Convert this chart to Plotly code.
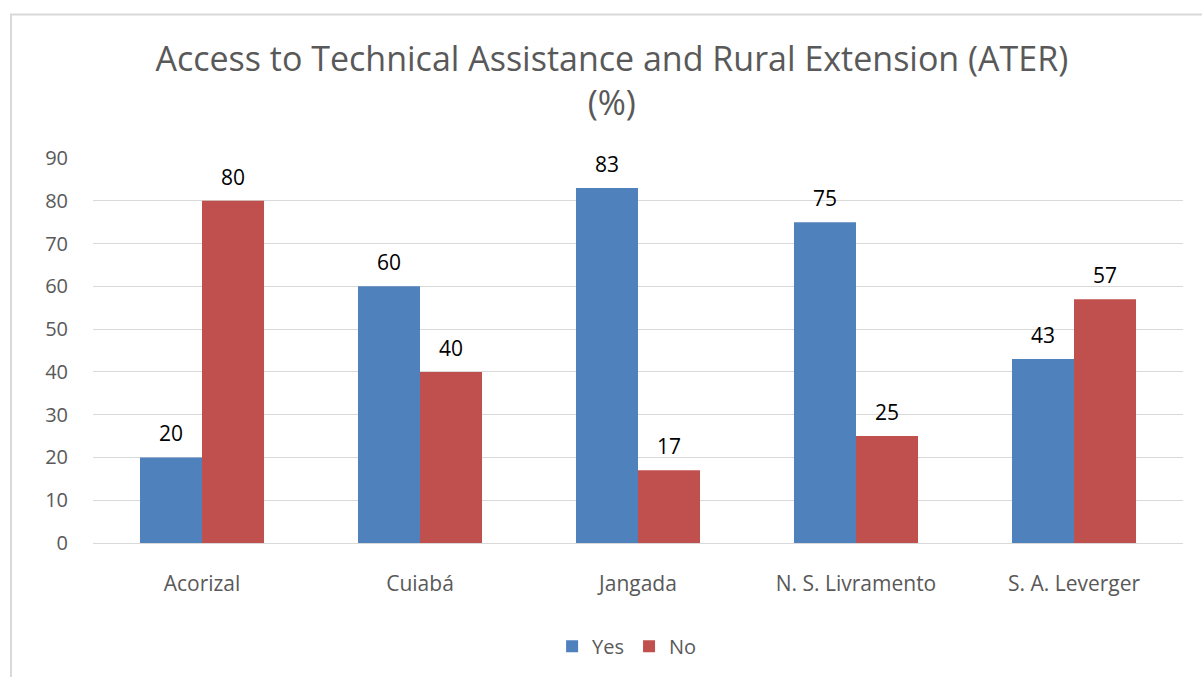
import plotly.graph_objects as go

categories = ["Acorizal", "Cuiabá", "Jangada", "N. S. Livramento", "S. A. Leverger"]
yes_values = [20, 60, 83, 75, 43]
no_values = [80, 40, 17, 25, 57]
series_names = ["Yes", "No"]
y_ticks = [0, 10, 20, 30, 40, 50, 60, 70, 80, 90]

BLUE = "#4F81BD"
RED = "#C0504D"
GRAY_TEXT = "#595959"
FONT = "Open Sans"

fig = go.Figure()
fig.add_trace(go.Bar(x=categories, y=yes_values, name=series_names[0],
                     marker=dict(color=BLUE, line=dict(width=0))))
fig.add_trace(go.Bar(x=categories, y=no_values, name=series_names[1],
                     marker=dict(color=RED, line=dict(width=0))))

bargap = 0.431
bar_w = (1 - bargap) / 2
for i in range(len(categories)):
    for vals, off in ((yes_values, -bar_w / 2), (no_values, bar_w / 2)):
        fig.add_annotation(x=i + off, y=vals[i], xref="x", yref="y",
                           text=str(vals[i]), showarrow=False,
                           yanchor="bottom", yshift=8,
                           font=dict(family=FONT, size=21, color="#000000"))

# outer chart border
fig.add_shape(type="rect", xref="paper", yref="paper",
              x0=-0.0752, x1=1.05, y0=-0.4, y1=1.373,
              line=dict(color="#D9D9D9", width=2), fillcolor="rgba(0,0,0,0)",
              layer="below")

fig.update_layout(
    width=1202, height=677,
    margin=dict(l=93, r=19, t=158, b=133),
    paper_bgcolor="white", plot_bgcolor="white",
    barmode="group", bargap=bargap, bargroupgap=0,
    title=dict(text="Access to Technical Assistance and Rural Extension (ATER)<br>(%)",
               x=0.509, xanchor="center", y=0.895, yanchor="middle",
               font=dict(family=FONT, size=34, color=GRAY_TEXT)),
    xaxis=dict(showgrid=False, showline=False, ticks="", ticklabelstandoff=26,
               tickfont=dict(family=FONT, size=21, color=GRAY_TEXT)),
    yaxis=dict(range=[0, 90], tickvals=y_ticks, showgrid=True, gridcolor="#D9D9D9",
               gridwidth=1, zeroline=True, zerolinecolor="#D9D9D9", zerolinewidth=1,
               showline=False, ticks="", ticklabelstandoff=24,
               tickfont=dict(family=FONT, size=20, color=GRAY_TEXT)),
    legend=dict(orientation="h", x=0.49, xanchor="center", y=-0.265, yanchor="middle",
                font=dict(family=FONT, size=20, color=GRAY_TEXT), itemwidth=30),
    showlegend=True,
)

fig.write_html("out.html")
